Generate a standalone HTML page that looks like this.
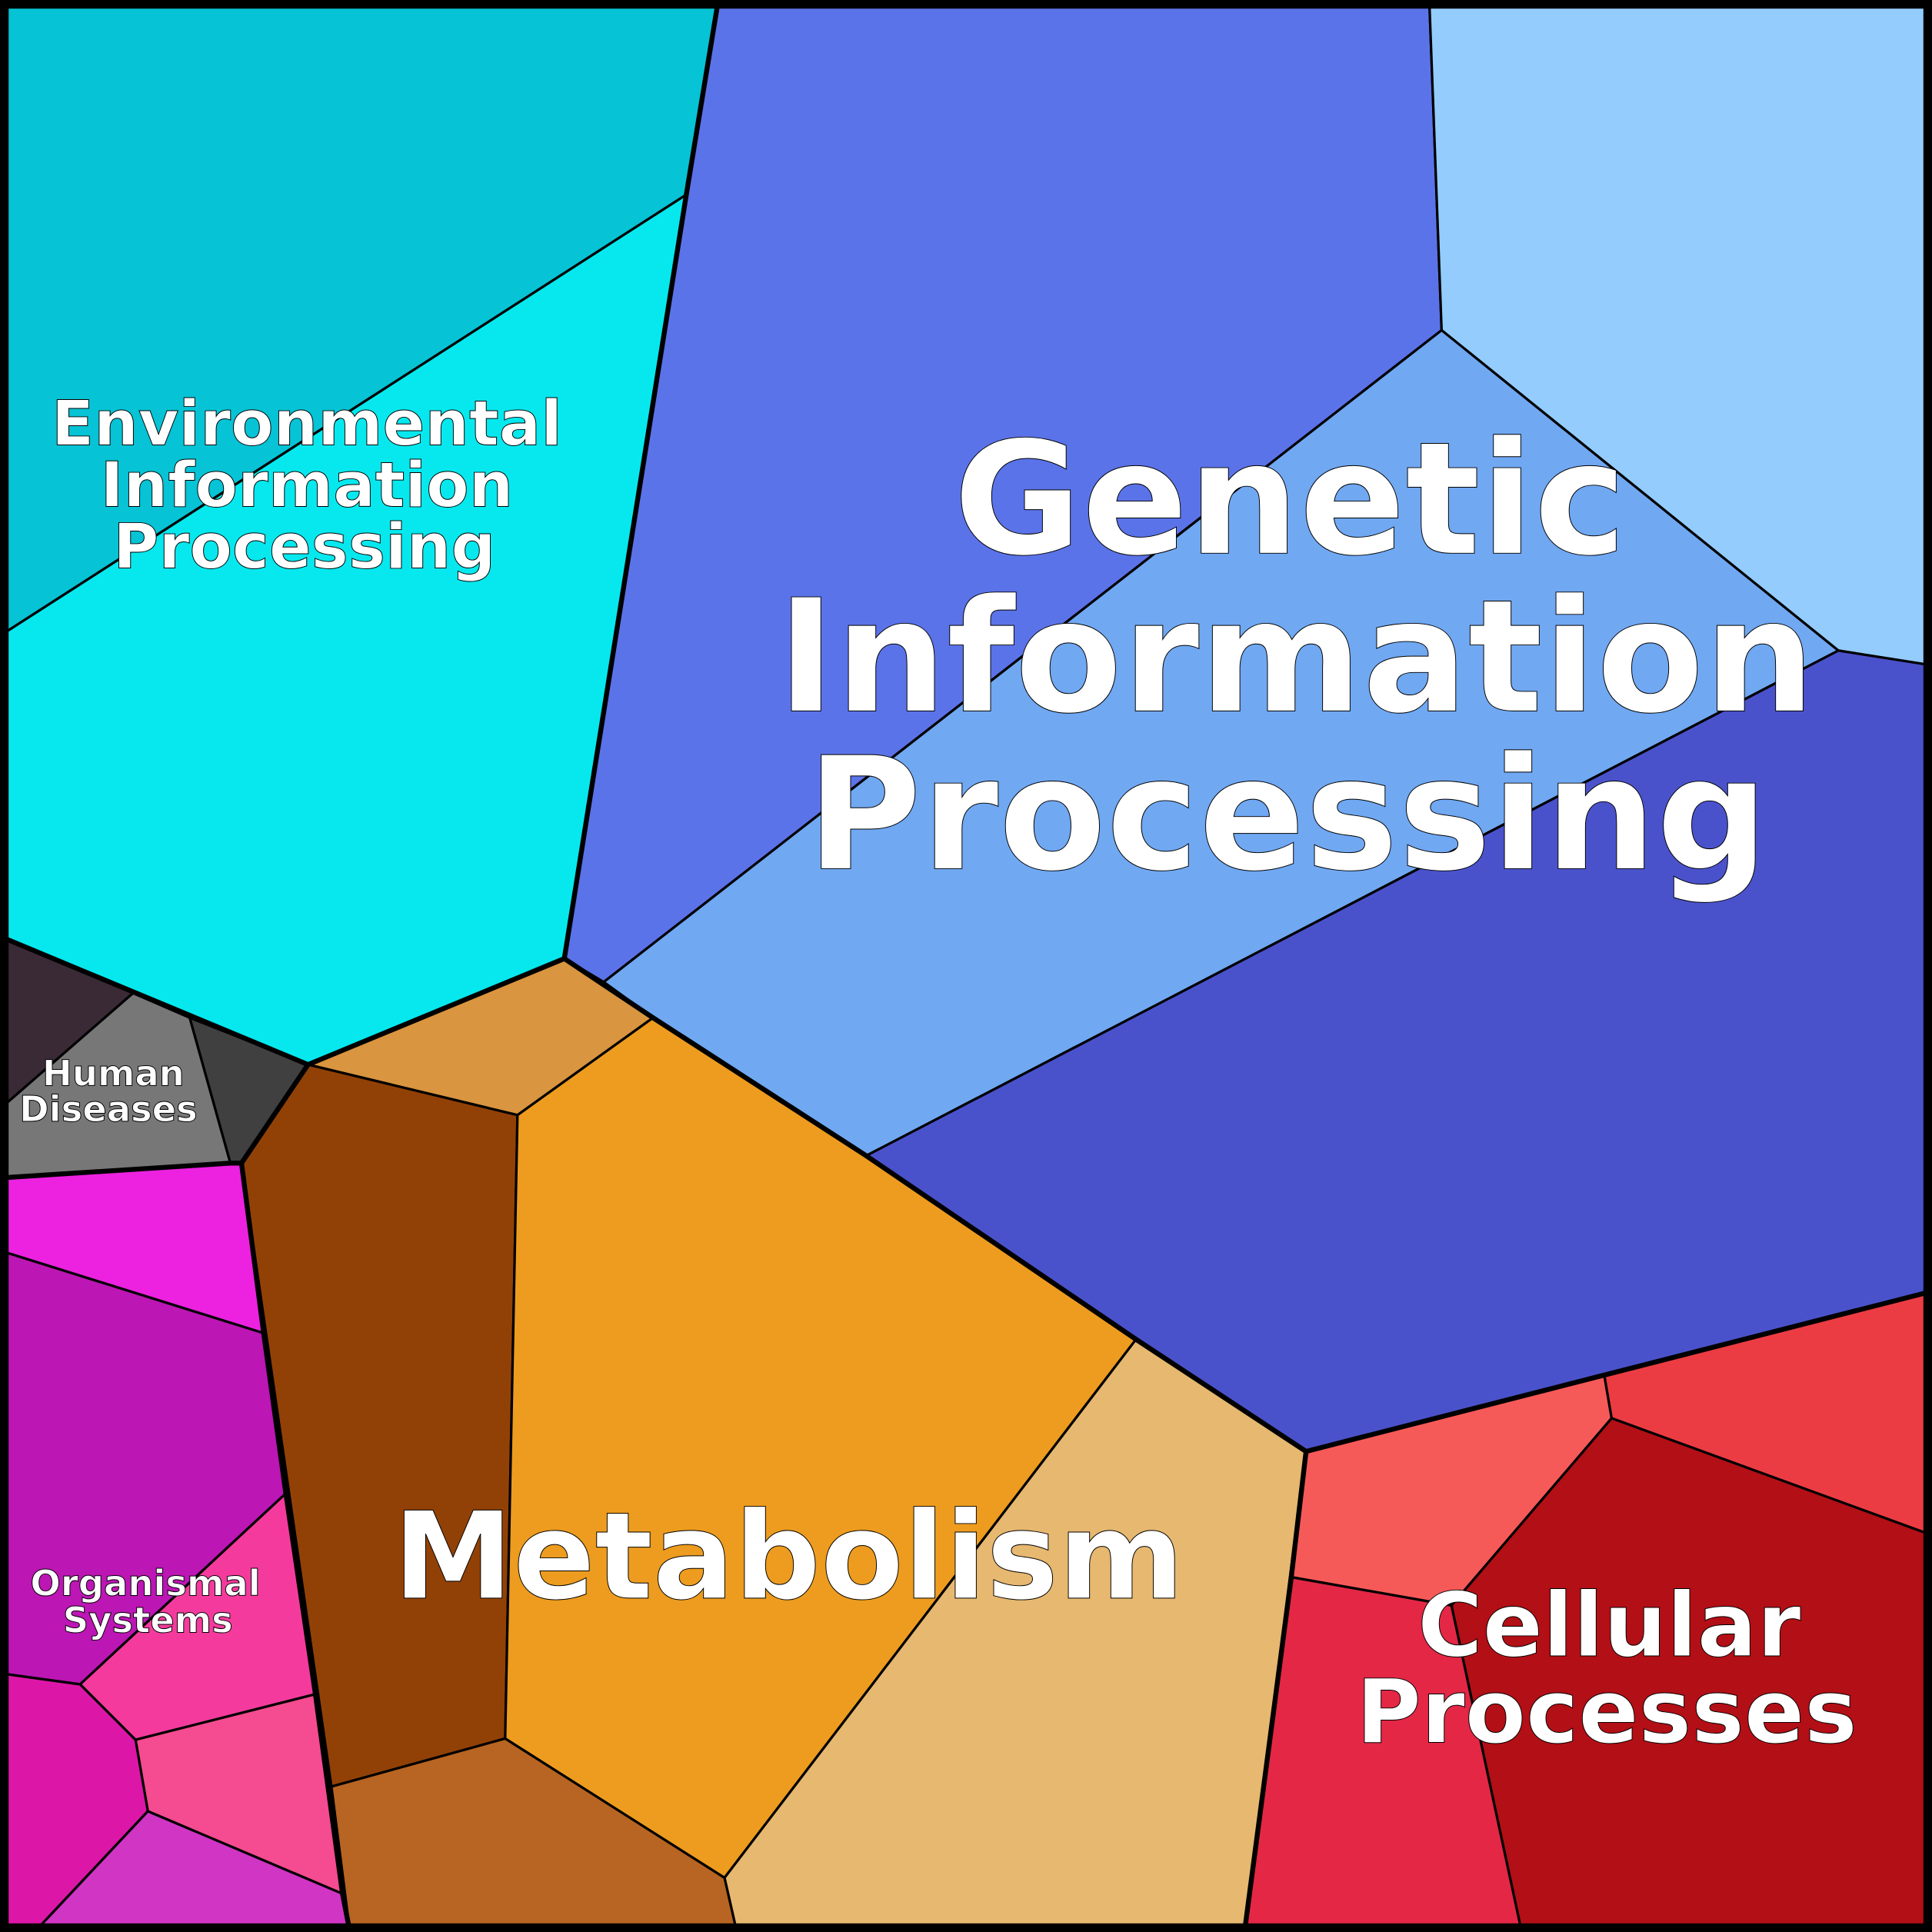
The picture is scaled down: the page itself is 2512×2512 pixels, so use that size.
<!DOCTYPE html>
<html><head><meta charset="utf-8"><style>
html,body{margin:0;padding:0;background:#fff}
svg{display:block}
text{font-family:"DejaVu Sans","Liberation Sans",sans-serif;font-weight:bold;fill:#fff;stroke:#000;stroke-width:0.6;text-anchor:middle}
</style></head><body>
<svg width="2512" height="2512" viewBox="0 0 1568 1568" xmlns="http://www.w3.org/2000/svg">
<g stroke="#000" stroke-width="2" stroke-linejoin="round">
<polygon fill="#06c3d5" points="0,0 583,0 557,158 0,516"/>
<polygon fill="#06e8ee" points="0,516 557,158 458,778 250,864 0,760"/>
<polygon fill="#5b73e8" points="583,0 1160,0 1170,268 490,797 458,778"/>
<polygon fill="#93ccfd" points="1160,0 1568,0 1568,540 1492,528 1170,268"/>
<polygon fill="#70a8f2" points="1170,268 1492,528 703,938 530,826 490,797"/>
<polygon fill="#4a52cb" points="1492,528 1568,540 1568,1048 1302,1116 1060,1178 922,1087 703,938"/>
<polygon fill="#d9953f" points="458,778 530,826 420,905 250,864"/>
<polygon fill="#924106" points="250,864 420,905 410,1411 269,1450 196,944"/>
<polygon fill="#ed9c1f" points="530,826 703,938 922,1087 588,1524 410,1411 420,905"/>
<polygon fill="#e6b870" points="922,1087 1060,1178 1010,1568 598,1568 588,1524"/>
<polygon fill="#b86422" points="269,1450 410,1411 588,1524 598,1568 284,1568"/>
<polygon fill="#f65a58" points="1060,1178 1302,1116 1308,1151 1178,1303 1048,1280"/>
<polygon fill="#ec3c43" points="1302,1116 1568,1048 1568,1246 1308,1151"/>
<polygon fill="#b30f16" points="1308,1151 1568,1246 1568,1568 1235,1568 1178,1303"/>
<polygon fill="#e42745" points="1048,1280 1178,1303 1235,1568 1010,1568"/>
<polygon fill="#3a2a36" points="0,760 108,806 0,900"/>
<polygon fill="#777777" points="108,806 154,826 187,944 0,956 0,900"/>
<polygon fill="#404040" points="154,826 250,864 196,944 187,944"/>
<polygon fill="#ec22e0" points="0,956 196,944 214,1082 0,1015"/>
<polygon fill="#bc16b4" points="0,1015 214,1082 232,1212 65,1367 0,1358"/>
<polygon fill="#f43b9d" points="232,1212 256,1375 110,1412 65,1367"/>
<polygon fill="#f44b91" points="110,1412 256,1375 278,1537 120,1470"/>
<polygon fill="#dc17a8" points="0,1358 65,1367 110,1412 120,1470 28,1568 0,1568"/>
<polygon fill="#d035c4" points="120,1470 278,1537 284,1568 28,1568"/>
</g>
<g fill="none" stroke="#000" stroke-width="4" stroke-linejoin="round">
<polyline points="583,0 557,158 458,778 250,864 0,760"/>
<polyline points="458,778 530,826 703,938 922,1087 1060,1178 1302,1116 1568,1048"/>
<polyline points="1060,1178 1048,1280 1010,1568"/>
<polyline points="0,956 187,944 196,944 250,864"/>
<polyline points="196,944 214,1082 232,1212 256,1375 278,1537 284,1568"/>
</g>
<rect x="3.5" y="3.5" width="1561" height="1561" fill="none" stroke="#000" stroke-width="7"/>
<text font-size="50.5"><tspan x="249" y="361">Environmental</tspan><tspan x="249" y="411">Information</tspan><tspan x="247" y="461">Processing</tspan></text>
<text font-size="127" stroke-width="1"><tspan x="1047" y="449">Genetic</tspan><tspan x="1052" y="577">Information</tspan><tspan x="1045" y="705">Processing</tspan></text>
<text font-size="98" stroke-width="1"><tspan x="640" y="1297">Metabolism</tspan></text>
<text font-size="72" stroke-width="0.8"><tspan x="1306" y="1344">Cellular</tspan><tspan x="1304" y="1414">Processes</tspan></text>
<text font-size="29"><tspan x="92" y="881">Human</tspan><tspan x="88" y="910">Diseases</tspan></text>
<text font-size="29"><tspan x="118" y="1295">Organismal</tspan><tspan x="120" y="1325">Systems</tspan></text>
</svg>
</body></html>
